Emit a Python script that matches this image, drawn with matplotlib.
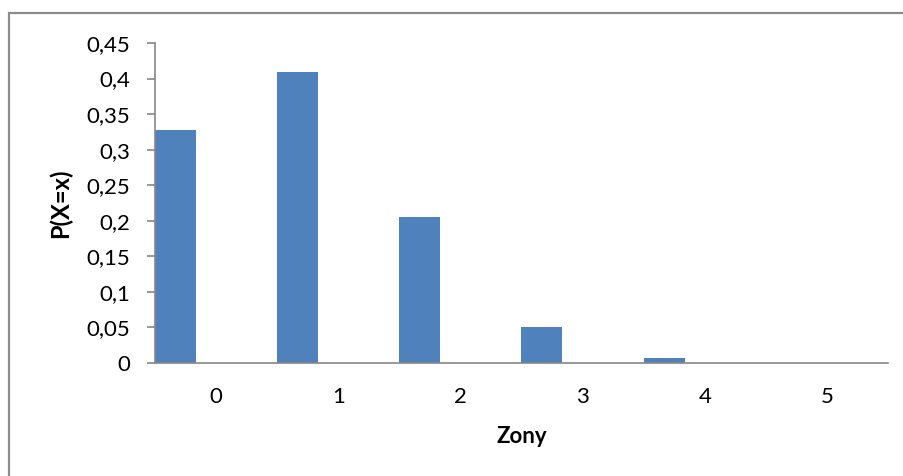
import matplotlib
matplotlib.use("Agg")
import matplotlib.pyplot as plt
from matplotlib.patches import Rectangle
from matplotlib.ticker import FixedLocator, FuncFormatter

# Binomial probabilities per zone
zones = ["0", "1", "2", "3", "4", "5"]
probs = [0.32768, 0.4096, 0.2048, 0.0512, 0.0064, 0.00032]
yticks = [0, 0.05, 0.1, 0.15, 0.2, 0.25, 0.3, 0.35, 0.4, 0.45]

W, H = 904, 476
fig = plt.figure(figsize=(W / 100, H / 100), dpi=100)
plt.rcParams["font.family"] = ["Lato", "DejaVu Sans"]

# outer chart frame (runs off the right and bottom edges)
fig.patches.append(Rectangle((9 / W, -0.05), 1.2, 1.05 - 13 / H,
                             transform=fig.transFigure, fill=False,
                             edgecolor="#8c8c8c", linewidth=1.6))

left, right, top, bottom = 155, 888, 43, 363
ax = fig.add_axes([left / W, 1 - bottom / H, (right - left) / W, (bottom - top) / H])

bar_w = 0.335
xs = list(range(len(zones)))
ax.bar([x - 0.5 for x in xs], probs, width=bar_w, align="edge",
       color="#4F81BD", edgecolor="none", zorder=2)

ax.set_xlim(-0.5, len(zones) - 0.5)
ax.set_ylim(0, 0.45)
ax.yaxis.set_major_locator(FixedLocator(yticks))
ax.yaxis.set_major_formatter(FuncFormatter(lambda v, p: ("%g" % round(v, 2)).replace(".", ",")))
ax.set_xticks(xs)
ax.set_xticklabels(zones)

for s in ["top", "right"]:
    ax.spines[s].set_visible(False)
for s in ["left", "bottom"]:
    ax.spines[s].set_color("#868686")
    ax.spines[s].set_linewidth(1.2)

ax.tick_params(axis="y", length=6, width=1.2, color="#868686", labelsize=16, pad=12)
ax.tick_params(axis="x", length=0, labelsize=16, pad=17)

ax.set_xlabel("Zony", fontsize=16, fontweight="bold", labelpad=14)
ax.set_ylabel("P(X=x)", fontsize=17, fontweight="bold", labelpad=10)

fig.savefig("out.png", dpi=100)
